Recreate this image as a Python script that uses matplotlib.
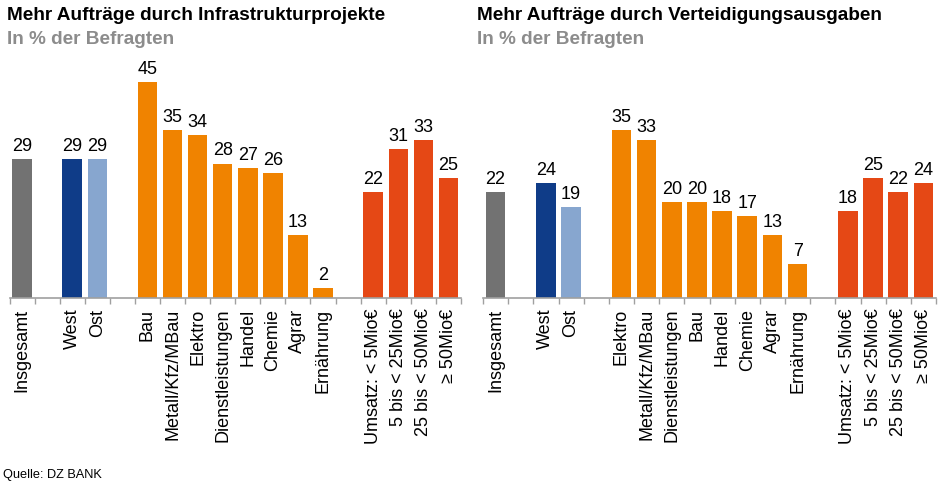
import numpy as np
import matplotlib
matplotlib.use("Agg")
import matplotlib.pyplot as plt

plt.rcParams['font.family'] = ['Liberation Sans', 'DejaVu Sans']

# categories (groups are separated by an empty slot)
total_labels = ['Insgesamt']
region_labels = ['West', 'Ost']
size_labels = ['Umsatz: < 5Mio€', '5 bis < 25Mio€', '25 bis < 50Mio€', '≥ 50Mio€']

infra_sectors = ['Bau', 'Metall/Kfz/MBau', 'Elektro', 'Dienstleistungen',
                 'Handel', 'Chemie', 'Agrar', 'Ernährung']
infra_total = [29]
infra_region = [29, 29]
infra_sector_vals = [45, 35, 34, 28, 27, 26, 13, 2]
infra_size = [22, 31, 33, 25]

defense_sectors = ['Elektro', 'Metall/Kfz/MBau', 'Dienstleistungen', 'Bau',
                   'Handel', 'Chemie', 'Agrar', 'Ernährung']
defense_total = [22]
defense_region = [24, 19]
defense_sector_vals = [35, 33, 20, 20, 18, 17, 13, 7]
defense_size = [18, 25, 22, 24]

GRAY = '#727272'
DARK_BLUE = '#0F3C88'
LIGHT_BLUE = '#87A6CF'
ORANGE = '#F08300'
RED = '#E54815'
AXIS_GRAY = '#A0A0A0'

W, H = 941, 493
fig = plt.figure(figsize=(W / 100, H / 100), dpi=100)


def draw_panel(ax, groups):
    pos = 0
    ticks, labels = [], []
    for names, vals, colors in groups:
        x = np.arange(len(names)) + pos
        bars = ax.bar(x, vals, width=0.78, color=colors)
        for b, v in zip(bars, vals):
            ax.annotate(str(v), (b.get_x() + b.get_width() / 2, v),
                        xytext=(0, 3), textcoords='offset points',
                        ha='center', va='bottom', fontsize=13)
        ticks += list(x)
        labels += names
        pos += len(names) + 1
    n_slots = pos - 1
    ax.set_xlim(-0.5, n_slots - 0.5)
    ax.set_ylim(0, 50)
    ax.set_xticks(ticks)
    ax.set_xticklabels(labels, rotation=90, fontsize=13, va='top')
    ax.tick_params(axis='x', which='major', length=0, pad=8)
    ax.set_xticks(np.arange(n_slots + 1) - 0.5, minor=True)
    ax.tick_params(axis='x', which='minor', length=4, color=AXIS_GRAY, width=1)
    ax.set_yticks([])
    for s in ['top', 'right', 'left']:
        ax.spines[s].set_visible(False)
    ax.spines['bottom'].set_color(AXIS_GRAY)
    ax.spines['bottom'].set_linewidth(1.2)


base = (H - 297.5) / H
height = 239 / H

ax1 = fig.add_axes([9.5 / W, base, 451.5 / W, height])
draw_panel(ax1, [
    (total_labels, infra_total, [GRAY]),
    (region_labels, infra_region, [DARK_BLUE, LIGHT_BLUE]),
    (infra_sectors, infra_sector_vals, [ORANGE] * 8),
    (size_labels, infra_size, [RED] * 4),
])

ax2 = fig.add_axes([483 / W, base, 453 / W, height])
draw_panel(ax2, [
    (total_labels, defense_total, [GRAY]),
    (region_labels, defense_region, [DARK_BLUE, LIGHT_BLUE]),
    (defense_sectors, defense_sector_vals, [ORANGE] * 8),
    (size_labels, defense_size, [RED] * 4),
])

title_size = 13.7
fig.text(7 / W, 1 - 15 / H, 'Mehr Aufträge durch Infrastrukturprojekte',
         fontsize=title_size, fontweight='bold', va='center', ha='left')
fig.text(7 / W, 1 - 40 / H, 'In % der Befragten', color='#8C8C8C',
         fontsize=title_size, fontweight='bold', va='center', ha='left')
fig.text(477 / W, 1 - 15 / H, 'Mehr Aufträge durch Verteidigungsausgaben',
         fontsize=title_size, fontweight='bold', va='center', ha='left')
fig.text(477 / W, 1 - 40 / H, 'In % der Befragten', color='#8C8C8C',
         fontsize=title_size, fontweight='bold', va='center', ha='left')
fig.text(3 / W, 1 - 475 / H, 'Quelle: DZ BANK', fontsize=9.2, va='center', ha='left')

fig.savefig('out.png', dpi=100)
